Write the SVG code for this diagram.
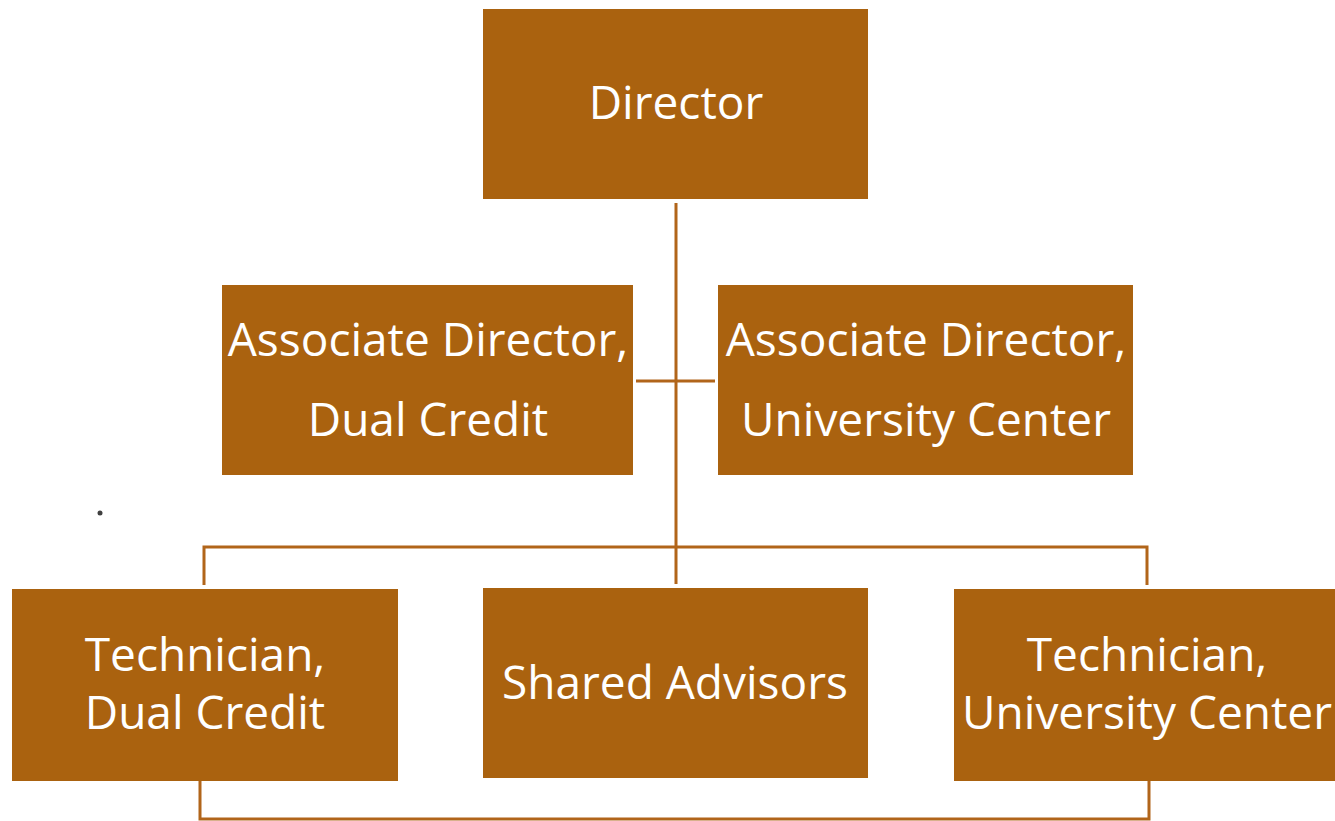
<svg xmlns="http://www.w3.org/2000/svg" width="1335" height="821" viewBox="0 0 1335 821">
<style>
.box{fill:#AA620F;}
.lbl{font-family:"Open Sans","Noto Sans","Liberation Sans",sans-serif;font-size:46px;fill:#FFFFFF;text-anchor:middle;}
.con{stroke:#B1651A;stroke-width:3;fill:none;}
</style>
<rect width="1335" height="821" fill="#FFFFFF"/>
<g id="connectors">
<line class="con" x1="676" y1="203" x2="676" y2="584"/>
<line class="con" x1="636" y1="381" x2="715" y2="381"/>
<polyline class="con" points="204,585 204,547 1147,547 1147,585"/>
<polyline class="con" points="200,781 200,819 1149,819 1149,781"/>
</g>
<g id="director">
<rect class="box" x="483" y="9" width="385" height="190"/>
<text class="lbl" x="676" y="119">Director</text>
</g>
<g id="assoc-dual-credit">
<rect class="box" x="222" y="285" width="411" height="190"/>
<text class="lbl" x="428" y="356">Associate Director,</text>
<text class="lbl" x="428" y="436">Dual Credit</text>
</g>
<g id="assoc-university-center">
<rect class="box" x="718" y="285" width="415" height="190"/>
<text class="lbl" x="926" y="356">Associate Director,</text>
<text class="lbl" x="926" y="436">University Center</text>
</g>
<g id="tech-dual-credit">
<rect class="box" x="12" y="589" width="386" height="192"/>
<text class="lbl" x="205" y="671">Technician,</text>
<text class="lbl" x="205" y="729">Dual Credit</text>
</g>
<g id="shared-advisors">
<rect class="box" x="483" y="588" width="385" height="190"/>
<text class="lbl" x="675" y="699">Shared Advisors</text>
</g>
<g id="tech-university-center">
<rect class="box" x="954" y="589" width="386" height="192"/>
<text class="lbl" x="1147" y="671">Technician,</text>
<text class="lbl" x="1147" y="729">University Center</text>
</g>
<circle cx="100" cy="513" r="2.5" fill="#404040"/>
</svg>
